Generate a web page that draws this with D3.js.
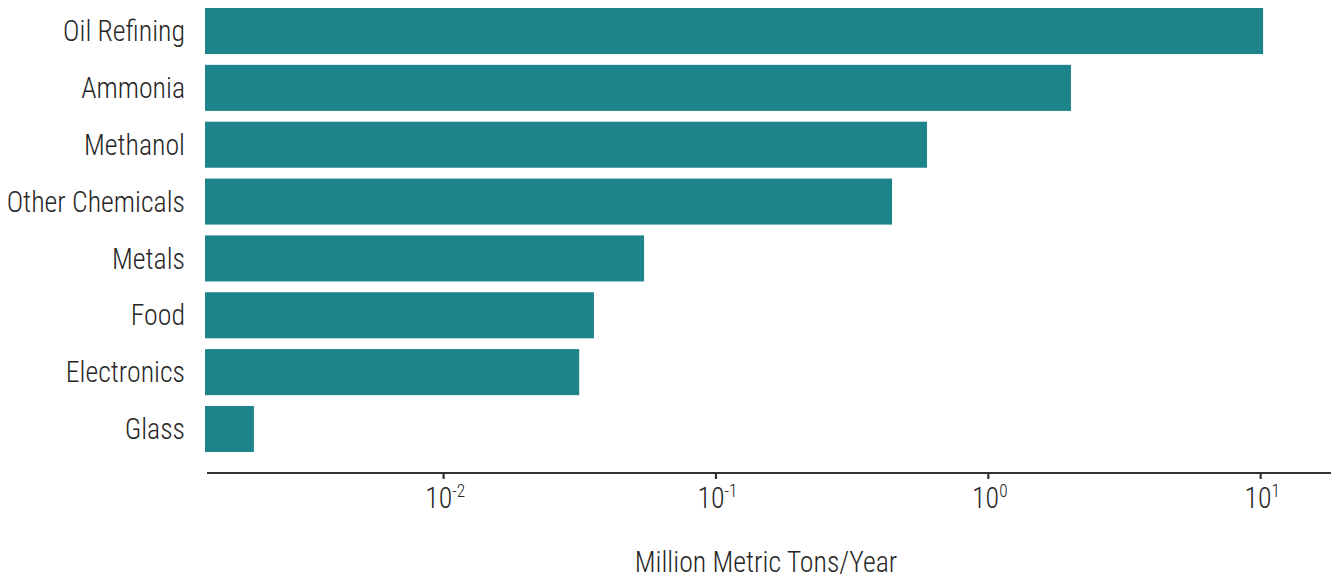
<!DOCTYPE html>
<html>
<head>
<meta charset="utf-8">
<script src="https://cdn.jsdelivr.net/npm/d3@7"></script>
<style>
  html, body { margin: 0; padding: 0; background: #ffffff; }
  svg { display: block; }
  text { font-family: "Roboto Condensed", "Liberation Sans Narrow", "Arial Narrow", "DejaVu Sans Condensed", sans-serif; fill: #262626; font-weight: 300; }
</style>
</head>
<body>
<svg id="chart" width="1338" height="578"></svg>
<script>
const categories = ["Oil Refining", "Ammonia", "Methanol", "Other Chemicals", "Metals", "Food", "Electronics", "Glass"];
const values = [10.25, 2.02, 0.598, 0.445, 0.0547, 0.0358, 0.0316, 0.00202];
const tickValues = [0.01, 0.1, 1, 10];
const tickExponents = ["-2", "-1", "0", "1"];
const xTitle = "Million Metric Tons/Year";

const svg = d3.select("#chart");
const SX = 0.96; // horizontal condensing of text

const x = d3.scaleLog()
  .domain([0.001336, 18.2])
  .range([205, 1331]);

const y = d3.scaleBand()
  .domain(categories)
  .range([2.6, 457.4])
  .paddingInner(0.19)
  .paddingOuter(0.095);

const data = categories.map((c, i) => ({ cat: c, val: values[i] }));

svg.append("g").selectAll("rect")
  .data(data)
  .join("rect")
  .attr("x", x.range()[0])
  .attr("y", d => y(d.cat))
  .attr("width", d => x(d.val) - x.range()[0])
  .attr("height", y.bandwidth())
  .attr("fill", "#1e848c");

// y labels
svg.append("g").selectAll("text")
  .data(categories)
  .join("text")
  .attr("transform", d => `translate(185,${y(d) + y.bandwidth() / 2}) scale(${SX},1)`)
  .attr("dy", "0.35em")
  .attr("text-anchor", "end")
  .attr("font-size", 29)
  .text(d => d);

// x axis
const axisY = 473;
const xAxis = d3.axisBottom(x)
  .tickValues(tickValues)
  .tickSize(6)
  .tickFormat("");
const gx = svg.append("g")
  .attr("transform", `translate(0,${axisY})`)
  .call(xAxis);
gx.select(".domain").remove();
gx.selectAll(".tick line").attr("stroke", "#333").attr("stroke-width", 2.2);

svg.append("line")
  .attr("x1", 207).attr("x2", x.range()[1])
  .attr("y1", axisY).attr("y2", axisY)
  .attr("stroke", "#333").attr("stroke-width", 2);

const labels = svg.append("g").selectAll("text")
  .data(tickValues)
  .join("text")
  .attr("transform", d => `translate(${x(d) + 2},508) scale(${SX},1)`)
  .attr("text-anchor", "middle")
  .attr("font-size", 29);
labels.append("tspan").text("10");
labels.append("tspan")
  .attr("dy", -11)
  .attr("font-size", 18)
  .text((d, i) => tickExponents[i]);

svg.append("text")
  .attr("transform", `translate(766,572) scale(${SX},1)`)
  .attr("text-anchor", "middle")
  .attr("font-size", 29)
  .text(xTitle);
</script>
</body>
</html>
